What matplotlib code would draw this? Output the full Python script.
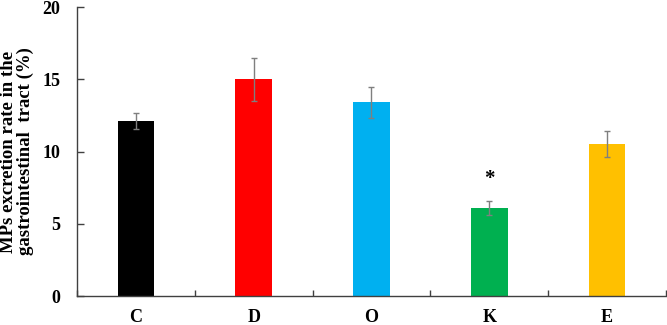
import matplotlib
matplotlib.use("Agg")
import matplotlib.pyplot as plt
import numpy as np

groups = ['C', 'D', 'O', 'K', 'E']
rates = [12.1, 15.0, 13.4, 6.1, 10.5]
errors = [0.55, 1.5, 1.1, 0.5, 0.9]
colors = ['#000000', '#FF0000', '#00B0F0', '#00B050', '#FFC000']
marks = ['', '', '', '*', '']

plt.rcParams['font.family'] = ['Liberation Serif', 'DejaVu Serif']
plt.rcParams['font.weight'] = 'bold'

fig = plt.figure(figsize=(6.67, 3.25), dpi=100)
ax = fig.add_axes([0.1154, 0.0892, 0.883, 0.889])

x = np.arange(len(groups))
ax.bar(x, rates, width=0.31, color=colors,
       yerr=errors, ecolor='#7f7f7f',
       error_kw=dict(elinewidth=1.0, capsize=2.5, capthick=1.0))

# significance mark above the error bar
for xi, r, e, m in zip(x, rates, errors, marks):
    if m:
        ax.text(xi, r + e + 1.5, m, ha='center', va='center', fontsize=15, fontweight='bold')

ax.set_xlim(-0.5, len(groups) - 0.5)
ax.set_ylim(0, 20)
ax.set_yticks([0, 5, 10, 15, 20])
ax.set_xticks(x)
ax.set_xticklabels(groups, fontsize=13, fontweight='bold')
ax.set_xticks(np.arange(len(groups) + 1) - 0.5, minor=True)
ax.tick_params(axis='x', which='major', length=0, pad=9)
ax.tick_params(axis='x', which='minor', direction='in', length=4, width=1, color='#404040')
ax.tick_params(axis='y', direction='in', length=5, width=1, color='#404040',
               labelsize=13, pad=12)
for lab in ax.get_yticklabels():
    lab.set_fontweight('bold')

for s in ['top', 'right']:
    ax.spines[s].set_visible(False)
for s in ['left', 'bottom']:
    ax.spines[s].set_color('#404040')
    ax.spines[s].set_linewidth(1)

ax.set_ylabel('MPs excretion rate in the\ngastrointestinal  tract (%)',
              fontsize=13.5, fontweight='bold', labelpad=6, linespacing=0.95)

fig.savefig('out.png', dpi=100)
